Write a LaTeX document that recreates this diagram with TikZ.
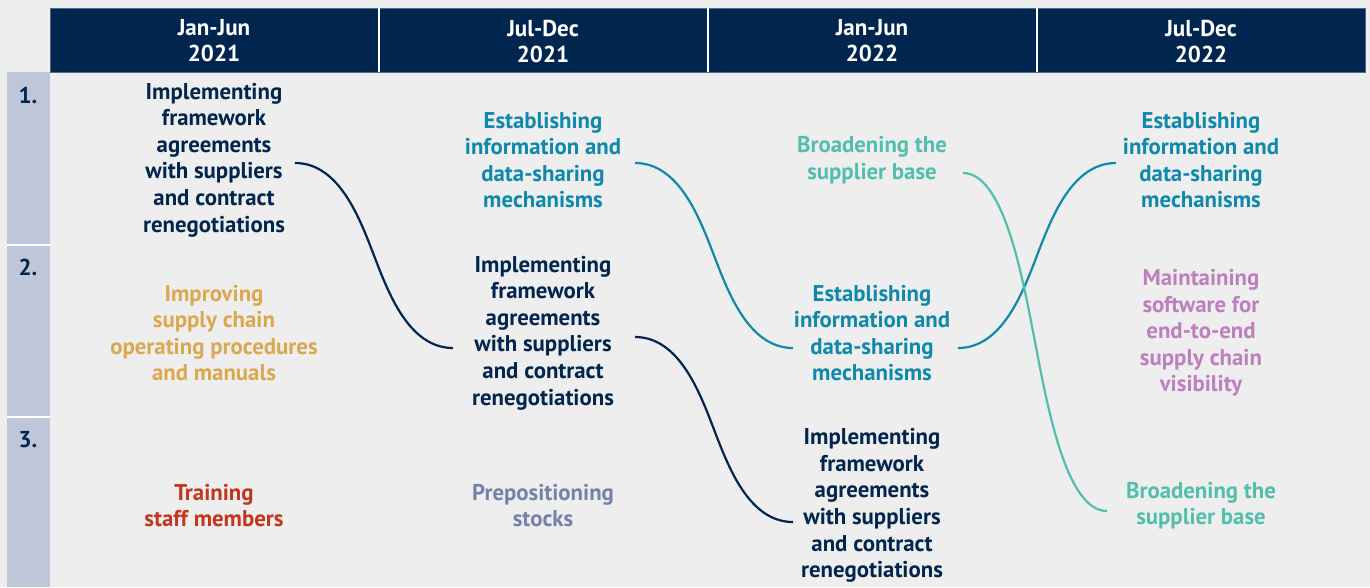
\documentclass[tikz,border=0pt]{standalone}
\usepackage{fontspec}
\setmainfont{PT Sans}
\usetikzlibrary{positioning, calc}

\definecolor{paper}{HTML}{EEEEEE}
\definecolor{navy}{HTML}{00264F}
\definecolor{hdredge}{HTML}{4F6B8C}
\definecolor{strip}{HTML}{C0C6D9}
\definecolor{petrol}{HTML}{0E89AD}
\definecolor{mint}{HTML}{52BFAD}
\definecolor{ochre}{HTML}{DBA84F}
\definecolor{brick}{HTML}{C2361B}
\definecolor{slate}{HTML}{7482AA}
\definecolor{orchid}{HTML}{BE7FBE}

\begin{document}
\begin{tikzpicture}[
	x=1pt, y=-1pt,
	hdr/.style={font=\bfseries\fontsize{23}{26}\selectfont, text=white, align=center, inner sep=0pt},
	rownum/.style={font=\bfseries\fontsize{23}{26}\selectfont, text=navy, inner sep=0pt},
	task/.style={font=\bfseries\fontsize{22.8}{26.6}\selectfont, align=center, inner sep=0pt},
	link/.style={line width=2.2pt, to path={let \p1=(\tikztostart), \p2=(\tikztotarget), \p3=($(\p1)!.5!(\p2)$) in
		.. controls +({0.28*(\x2-\x1)},0pt) and +({-0.09*(\x2-\x1)},{-0.2*(\y2-\y1)}) .. (\p3)
		.. controls +({0.09*(\x2-\x1)},{0.2*(\y2-\y1)}) and +({-0.28*(\x2-\x1)},0pt) .. (\p2)}}
]

% background, header bar and row strip
\fill[paper] (0,0) rectangle (1370,587);
\fill[navy, draw=hdredge, line width=0.8pt] (50,8) rectangle (1365,72);
\foreach \x in {379,708,1037}
	\draw[white, line width=1.2pt] (\x,8) -- (\x,72);
\fill[strip] (7,72) rectangle (50,587);
\foreach \y in {245,417}
	\draw[white, line width=1.5pt] (7,\y) -- (50,\y);

\foreach \x/\m/\yr [count=\i] in {214/Jan-Jun/2021, 543/Jul-Dec/2021, 872/Jan-Jun/2022, 1201/Jul-Dec/2022}
	\node[hdr] (hd\i) at (\x,41) {\m\\\yr};

\foreach \y [count=\i] in {95,267,440}
	\node[rownum] (num\i) at (28,\y) {\i.};

% tasks, column by column
\node[task, text=navy] (t11) at (214,160) {Implementing\\framework\\agreements\\with suppliers\\and contract\\renegotiations};
\node[task, text=ochre] (t12) at (214,333) {Improving\\supply chain\\operating procedures\\and manuals};
\node[task, text=brick] (t13) at (214,505.5) {Training\\staff members};

\node[task, text=petrol] (t21) at (543,160) {Establishing\\information and\\data-sharing\\mechanisms};
\node[task, text=navy] (t22) at (543,333) {Implementing\\framework\\agreements\\with suppliers\\and contract\\renegotiations};
\node[task, text=slate] (t23) at (543,505.5) {Prepositioning\\stocks};

\node[task, text=mint] (t31) at (872,160) {Broadening the\\supplier base};
\node[task, text=petrol] (t32) at (872,333) {Establishing\\information and\\data-sharing\\mechanisms};
\node[task, text=navy] (t33) at (872,505.5) {Implementing\\framework\\agreements\\with suppliers\\and contract\\renegotiations};

\node[task, text=petrol] (t41) at (1201,160) {Establishing\\information and\\data-sharing\\mechanisms};
\node[task, text=orchid] (t42) at (1201,333) {Maintaining\\software for\\end-to-end\\supply chain\\visibility};
\node[task, text=mint] (t43) at (1201,505.5) {Broadening the\\supplier base};

% shifts between periods
\draw[link, navy] ($(t11.center)+(81,3)$) to ($(t22.center)+(-90,15)$);
\draw[link, navy] ($(t22.center)+(92,4)$) to ($(t33.center)+(-79,16.5)$);
\draw[link, petrol] ($(t21.center)+(92,3)$) to ($(t32.center)+(-79,15)$);
\draw[link, petrol] ($(t32.center)+(86,15)$) to ($(t41.center)+(-85,3)$);
\draw[link, mint] ($(t31.center)+(91,13)$) to ($(t43.center)+(-94,5.5)$);

\end{tikzpicture}
\end{document}
